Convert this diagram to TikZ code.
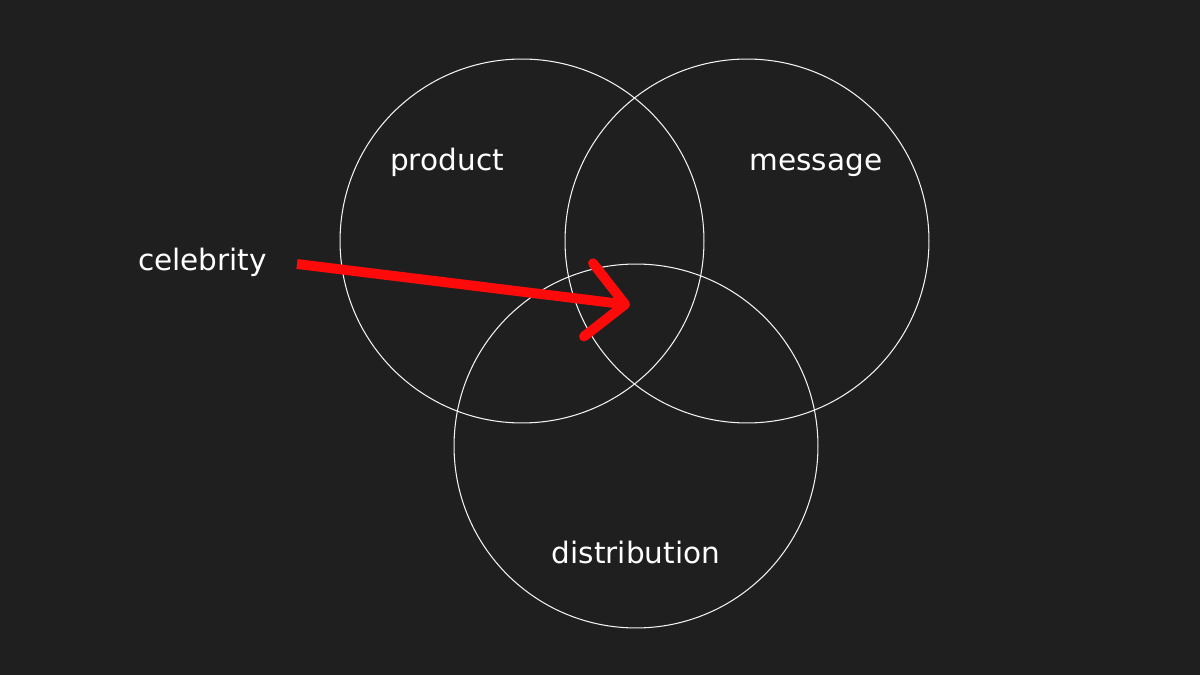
\documentclass[tikz,border=0pt]{standalone}
\usepackage{fontspec}
\usepackage{xcolor}
\usetikzlibrary{positioning, arrows.meta}
\newfontfamily\labelfont{DejaVu Sans}
\definecolor{bg}{HTML}{1F1F1F}
\definecolor{ring}{HTML}{F2F2F2}
\definecolor{pointer}{HTML}{FF0A0A}

\begin{document}
\begin{tikzpicture}[x=0.02cm, y=-0.02cm,
      every node/.style={text=white, font=\labelfont\fontsize{16.8}{20}\selectfont},
      set/.style={draw=ring, line width=0.6pt, circle, minimum size=7.28cm, inner sep=0pt},
      word/.style={anchor=base, inner sep=0pt}]

    \fill[bg] (0,0) rectangle (1200,675);
    \useasboundingbox (0,0) rectangle (1200,675);

    \node[set] (product) at (522,241) {};
    \node[set] (message) at (747,241) {};
    \node[set] (distribution) at (636,446) {};

    \node[word] (productlabel) at (447,171) {product};
    \node[word] (messagelabel) at (816,171) {message};
    \node[word] (distributionlabel) at (636,563) {distribution};
    \node[word] (celebrity) at (202.5,271) {celebrity};

    \coordinate (from) at (297,264);
    \coordinate (aim) at (630,305);
    \draw[pointer, line width=5.6pt, -{Straight Barb[round, length=21pt, width=42pt]}] (from) -- (aim);
  \end{tikzpicture}
\end{document}
